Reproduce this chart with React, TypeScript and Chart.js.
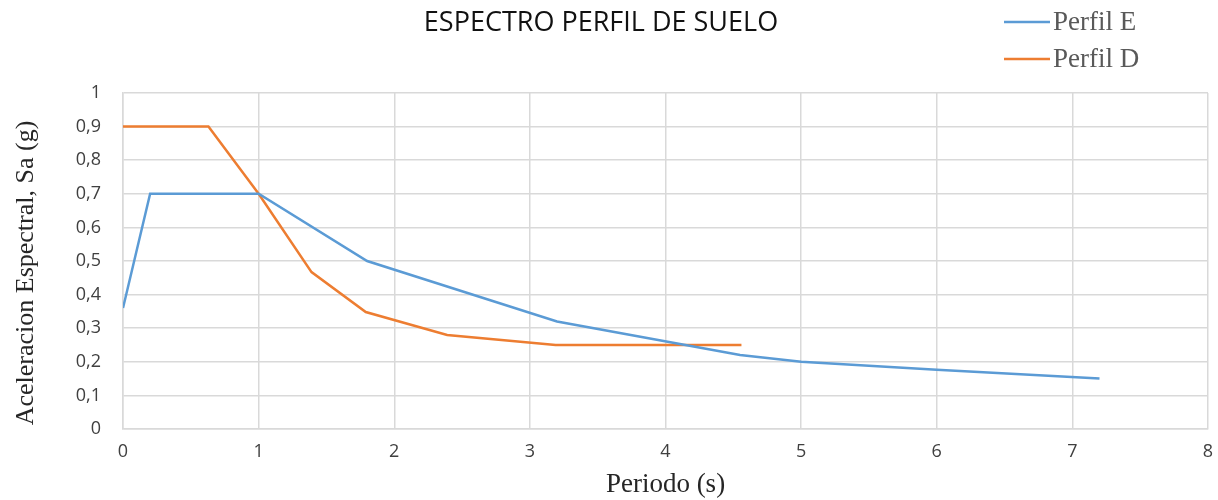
import React, { useEffect, useRef } from "react";
import { Chart, registerables } from "chart.js";

Chart.register(...registerables);

const chartTitle = "ESPECTRO PERFIL DE SUELO";
const xAxisTitle = "Periodo (s)";
const yAxisTitle = "Aceleracion Espectral, Sa (g)";

const seriesNames = ["Perfil E", "Perfil D"];
const seriesColors = ["#5b9bd5", "#ed7d31"];

const perfilE_T = [0, 0.2, 1.0, 1.8, 3.2, 4.55, 5.0, 6.0, 7.2];
const perfilE_Sa = [0.36, 0.7, 0.7, 0.5, 0.32, 0.22, 0.2, 0.176, 0.15];

const perfilD_T = [0, 0.63, 1.0, 1.39, 1.79, 2.39, 3.19, 4.56];
const perfilD_Sa = [0.9, 0.9, 0.7, 0.467, 0.348, 0.28, 0.25, 0.25];

const xMin = 0;
const xMax = 8;
const yMin = 0;
const yMax = 1;

const W = 1218;
const H = 500;

const toPoints = (xs: number[], ys: number[]) => xs.map((x, i) => ({ x, y: ys[i] }));

const overlayPlugin = {
  id: "overlay",
  afterDraw(chart: any) {
    const ctx = chart.ctx;
    const area = chart.chartArea;
    ctx.save();
    // chart title
    ctx.fillStyle = "#111111";
    ctx.font = "27px 'Open Sans'";
    ctx.textAlign = "center";
    ctx.textBaseline = "middle";
    ctx.fillText(chartTitle, 601, 23);

    // legend
    ctx.font = "27px 'Liberation Serif'";
    ctx.textAlign = "left";
    seriesNames.forEach((name, i) => {
      const y = 22 + i * 37;
      ctx.strokeStyle = seriesColors[i];
      ctx.lineWidth = 2.5;
      ctx.beginPath();
      ctx.moveTo(1004, y);
      ctx.lineTo(1050, y);
      ctx.stroke();
      ctx.fillStyle = "#595959";
      ctx.fillText(name, 1053, y + 1);
    });

    // axis titles
    ctx.fillStyle = "#262626";
    ctx.font = "27px 'Liberation Serif'";
    ctx.textAlign = "center";
    ctx.fillText(xAxisTitle, (area.left + area.right) / 2, 485);

    ctx.font = "26px 'Liberation Serif'";
    ctx.translate(26, 273);
    ctx.rotate(-Math.PI / 2);
    ctx.fillText(yAxisTitle, 0, 0);
    ctx.restore();
  },
};

export default function App() {
  const ref = useRef<HTMLCanvasElement>(null);

  useEffect(() => {
    if (!ref.current) return;
    const chart = new Chart(ref.current, {
      type: "scatter",
      data: {
        datasets: [
          {
            label: seriesNames[0],
            data: toPoints(perfilE_T, perfilE_Sa),
            showLine: true,
            borderColor: seriesColors[0],
            backgroundColor: seriesColors[0],
            borderWidth: 2.5,
            pointRadius: 0,
            tension: 0,
          },
          {
            label: seriesNames[1],
            data: toPoints(perfilD_T, perfilD_Sa),
            showLine: true,
            borderColor: seriesColors[1],
            backgroundColor: seriesColors[1],
            borderWidth: 2.5,
            pointRadius: 0,
            tension: 0,
          },
        ],
      },
      options: {
        animation: false,
        responsive: false,
        maintainAspectRatio: false,
        layout: { padding: { top: 93, right: 10, left: 0, bottom: 0 } },
        plugins: {
          legend: { display: false },
          title: { display: false },
          tooltip: { enabled: false },
        },
        scales: {
          x: {
            type: "linear",
            min: xMin,
            max: xMax,
            afterFit: (s: any) => {
              s.height = 71;
              s.paddingLeft = 0;
              s.paddingRight = 0;
            },
            ticks: {
              stepSize: 1,
              padding: 12,
              color: "#404040",
              font: { family: "Open Sans", size: 18 },
            },
            grid: { color: "#d9d9d9", lineWidth: 1.5, drawTicks: false },
            border: { color: "#d9d9d9", width: 1.5 },
          },
          y: {
            type: "linear",
            min: yMin,
            max: yMax,
            afterFit: (s: any) => {
              s.width = 123;
            },
            ticks: {
              stepSize: 0.1,
              padding: 22,
              color: "#404040",
              font: { family: "Open Sans", size: 18 },
              callback: (v: any) => String(Math.round(Number(v) * 10) / 10).replace(".", ","),
            },
            grid: { color: "#d9d9d9", lineWidth: 1.5, drawTicks: false },
            border: { color: "#d9d9d9", width: 1.5 },
          },
        },
      },
      plugins: [overlayPlugin],
    } as any);
    return () => chart.destroy();
  }, []);

  return (
    <div style={{ width: W, height: H }}>
      <style>{"body{margin:0}"}</style>
      <canvas ref={ref} width={W} height={H} style={{ width: W, height: H, display: "block" }} />
    </div>
  );
}
